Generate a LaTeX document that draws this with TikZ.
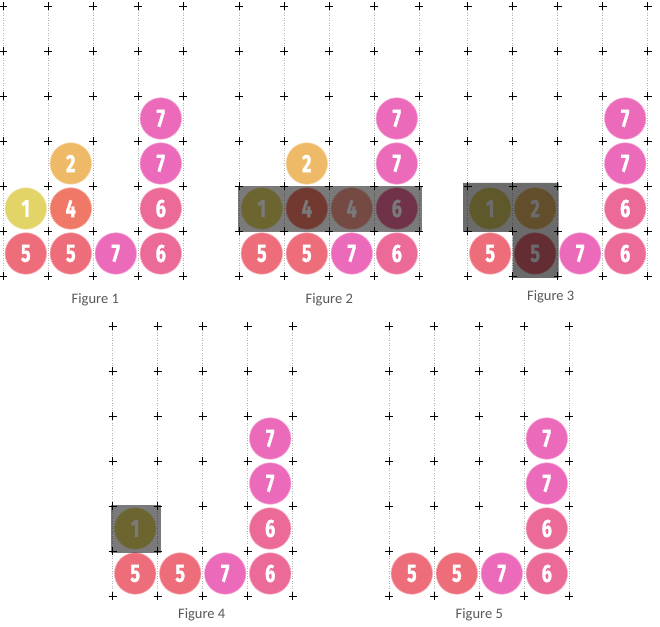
\documentclass[tikz,border=0pt]{standalone}
\usepackage{fontspec}
\setmainfont{Carlito}
\newfontfamily\tilefont[FakeStretch=0.72, FakeBold=1.2]{Fira Sans}

\definecolor{c1}{HTML}{E2D466}
\definecolor{c2}{HTML}{EEBA68}
\definecolor{c4}{HTML}{EF7866}
\definecolor{c4b}{HTML}{F39C8E}
\definecolor{c5}{HTML}{EE6D7B}
\definecolor{c6}{HTML}{EC6A98}
\definecolor{c7}{HTML}{EC6ABA}

\tikzset{
  tile/.style={circle, inner sep=0pt, minimum size=41.5pt, fill=#1, draw=#1!55!white,
    line width=0.6pt, text=white, font=\tilefont\bfseries\fontsize{25}{25}\selectfont},
  rail/.style={black!30, dotted, line width=0.5pt},
  crossmark/.style={black, line width=0.9pt},
  dimmer/.style={fill=black, fill opacity=#1},
  dimmer/.default=0.52,
  caption/.style={text=black!66, font=\fontsize{14.5}{14.5}\selectfont}
}

% dotted column lines and the crosses of one board
\newcommand{\rails}{\foreach \i in {0,...,4} \draw[rail] (\i,0) -- (\i,6);}
\newcommand{\crosses}{\foreach \i in {0,...,4} \foreach \j in {0,...,6}
  \draw[crossmark] (\i,\j) +(-4pt,0) -- +(4pt,0) +(0,-4pt) -- +(0,4pt);}

\begin{document}
\begin{tikzpicture}[x=45pt, y=45pt]
\useasboundingbox (0pt,0pt) rectangle (660pt,626pt);

% Figure 1
\begin{scope}[shift={(3.3pt,350pt)}]
  \rails
  \foreach \c/\r/\n/\k in {1/1/5/c5, 2/1/5/c5, 3/1/7/c7, 4/1/6/c6, 1/2/1/c1, 2/2/4/c4,
      4/2/6/c6, 2/3/2/c2, 4/3/7/c7, 4/4/7/c7}
    \node[tile=\k] (f1-\c-\r) at (\c-0.5,\r-0.5) {\n};
  \crosses
  \node[caption] (cap1) at (92pt,-24pt) {Figure 1};
\end{scope}

% Figure 2
\begin{scope}[shift={(239.3pt,350pt)}]
  \rails
  \foreach \c/\r/\n/\k in {1/1/5/c5, 2/1/5/c5, 3/1/7/c7, 4/1/6/c6, 1/2/1/c1, 2/2/4/c4,
      3/2/4/c4b, 4/2/6/c6, 2/3/2/c2, 4/3/7/c7, 4/4/7/c7}
    \node[tile=\k] (f2-\c-\r) at (\c-0.5,\r-0.5) {\n};
  \fill[dimmer] (-1pt,44pt) rectangle (183pt,90pt);
  \crosses
  \node[caption] (cap2) at (90pt,-24pt) {Figure 2};
\end{scope}

% Figure 3
\begin{scope}[shift={(467.7pt,350pt)}]
  \rails
  \foreach \c/\r/\n/\k in {1/1/5/c5, 2/1/5/c5, 3/1/7/c7, 4/1/6/c6, 1/2/1/c1, 2/2/2/c2,
      4/2/6/c6, 4/3/7/c7, 4/4/7/c7}
    \node[tile=\k] (f3-\c-\r) at (\c-0.5,\r-0.5) {\n};
  \fill[dimmer=0.58] (-4.5pt,44pt) -- (-4.5pt,93pt) -- (91pt,93pt) -- (91pt,-2pt)
    -- (45pt,-2pt) -- (45pt,44pt) -- cycle;
  \crosses
  \node[caption] (cap3) at (83pt,-20.5pt) {Figure 3};
\end{scope}

% Figure 4
\begin{scope}[shift={(112.7pt,30pt)}]
  \rails
  \foreach \c/\r/\n/\k in {1/1/5/c5, 2/1/5/c5, 3/1/7/c7, 4/1/6/c6, 1/2/1/c1,
      4/2/6/c6, 4/3/7/c7, 4/4/7/c7}
    \node[tile=\k] (f4-\c-\r) at (\c-0.5,\r-0.5) {\n};
  \fill[dimmer] (-1.7pt,43.3pt) rectangle (48.3pt,91pt);
  \crosses
  \node[caption] (cap4) at (89pt,-19pt) {Figure 4};
\end{scope}

% Figure 5
\begin{scope}[shift={(389.3pt,30pt)}]
  \rails
  \foreach \c/\r/\n/\k in {1/1/5/c5, 2/1/5/c5, 3/1/7/c7, 4/1/6/c6,
      4/2/6/c6, 4/3/7/c7, 4/4/7/c7}
    \node[tile=\k] (f5-\c-\r) at (\c-0.5,\r-0.5) {\n};
  \crosses
  \node[caption] (cap5) at (90pt,-19pt) {Figure 5};
\end{scope}
\end{tikzpicture}
\end{document}
